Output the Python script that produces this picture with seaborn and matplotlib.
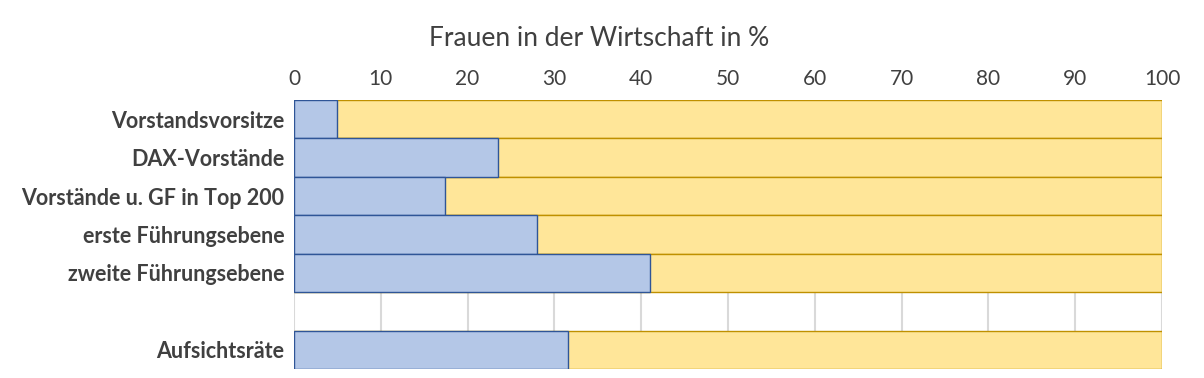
import pandas as pd
import matplotlib
matplotlib.use('Agg')
import matplotlib.pyplot as plt
import seaborn as sns

# Daten
kategorien = ['Vorstandsvorsitze', 'DAX-Vorstände', 'Vorstände u. GF in Top 200',
              'erste Führungsebene', 'zweite Führungsebene', 'Aufsichtsräte']
frauen = [5.0, 23.5, 17.4, 28.0, 41.0, 31.6]
gesamt = [100, 100, 100, 100, 100, 100]
reihenfolge = ['Vorstandsvorsitze', 'DAX-Vorstände', 'Vorstände u. GF in Top 200',
               'erste Führungsebene', 'zweite Führungsebene', ' ', 'Aufsichtsräte']
x_ticks = list(range(0, 101, 10))

df = pd.DataFrame({'Kategorie': kategorien, 'Frauen': frauen, 'Gesamt': gesamt})

sns.set_style('white')
plt.rcParams['font.family'] = ['Lato', 'DejaVu Sans']

fig = plt.figure(figsize=(12.04, 3.78), dpi=100)
ax = fig.add_axes([294 / 1204, 1 - 369 / 378, (1162 - 294) / 1204, (369 - 100) / 378])

sns.barplot(data=df, x='Gesamt', y='Kategorie', order=reihenfolge, orient='h',
            color='#FFE699', saturation=1, width=1.0, edgecolor='#BF9000', linewidth=1, ax=ax)
sns.barplot(data=df, x='Frauen', y='Kategorie', order=reihenfolge, orient='h',
            color='#B4C7E7', saturation=1, width=1.0, edgecolor='#2F5597', linewidth=1, ax=ax)

ax.set_xlim(0, 100)
ax.set_ylim(6.5, -0.5)
ax.set_xticks(x_ticks)
ax.xaxis.tick_top()
ax.tick_params(axis='x', length=0, labelsize=15, labelcolor='#404040', pad=8)
ax.tick_params(axis='y', length=0, labelsize=15.5, labelcolor='#404040', pad=7)
for lbl in ax.get_yticklabels():
    lbl.set_fontweight('bold')
ax.set_xlabel('')
ax.set_ylabel('')
ax.grid(axis='x', color='#D9D9D9', linewidth=1.5)
ax.set_axisbelow(True)
for s in ax.spines.values():
    s.set_visible(False)

fig.text(0.498, 1 - 38 / 378, 'Frauen in der Wirtschaft in %', ha='center', va='center',
         fontsize=19, color='#404040')

fig.savefig('out.png', dpi=100)
